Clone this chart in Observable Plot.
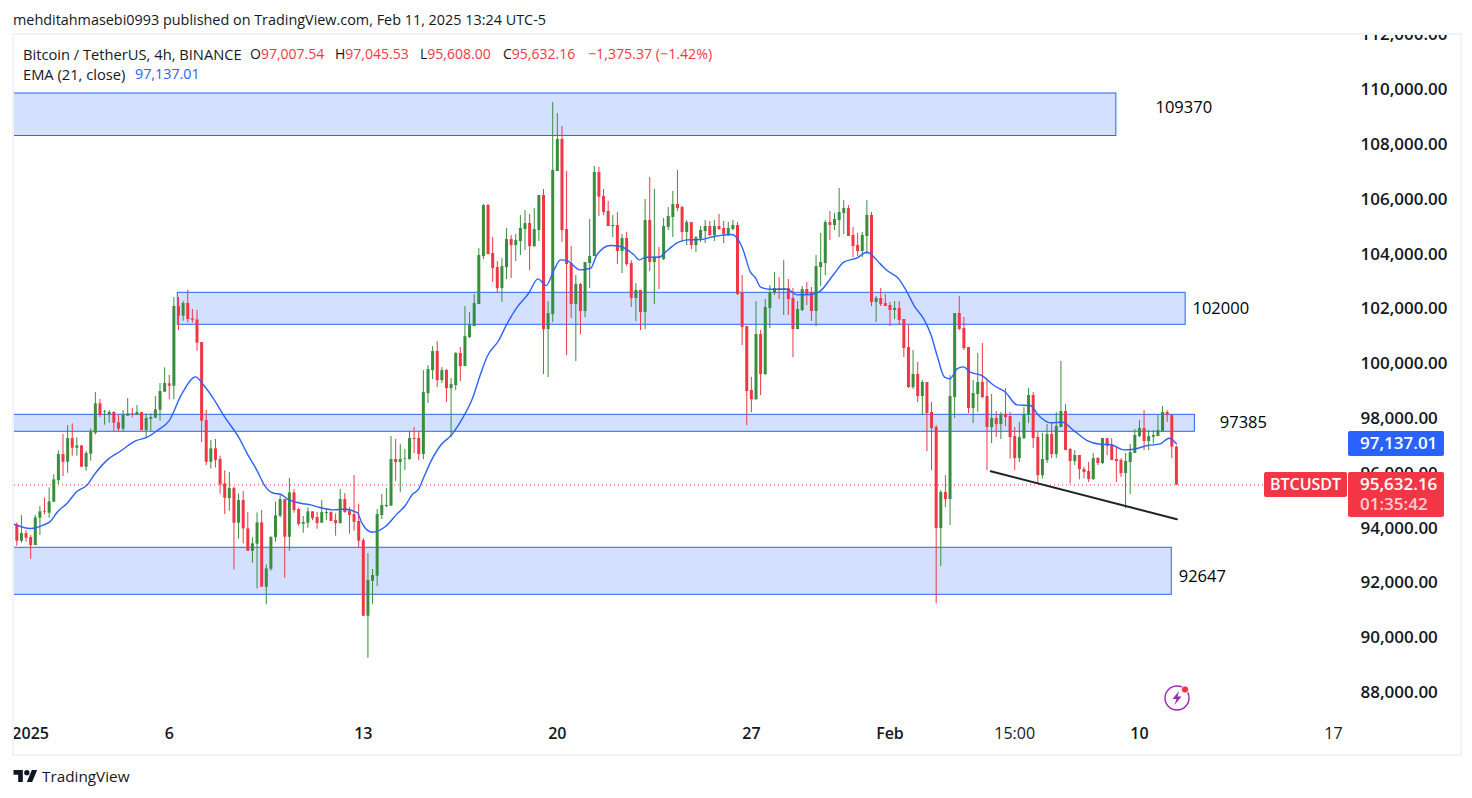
<!DOCTYPE html>
<html><head><meta charset="utf-8">
<script src="https://cdn.jsdelivr.net/npm/d3@7"></script>
<script src="https://cdn.jsdelivr.net/npm/@observablehq/plot@0.6"></script>
<style>
html,body{margin:0;padding:0;background:#fff;width:1472px;height:798px;overflow:hidden;font-family:"Open Sans",sans-serif;color:#131722}
.abs{position:absolute;white-space:nowrap}
#frame{left:12px;top:33px;width:1446px;height:719px;border:2px solid #f0f3fa}
#chart{left:14px;top:35px}
#chart svg{display:block}
.leg{font-size:14px;line-height:18px}
.wide{font-size:14.7px}
.red{color:#f23645}.blue{color:#2962ff}
.tag{color:#fff;font-size:17px;font-weight:600;border-radius:2px;box-sizing:border-box}
</style></head><body>
<div class="abs" id="published" style="left:13px;top:10px;font-size:14.4px;line-height:20px;">mehditahmasebi0993 published on TradingView.com, Feb 11, 2025 13:24 UTC-5</div>
<div class="abs" id="frame"></div>
<div class="abs" id="chart"></div>
<div class="abs leg wide" style="left:23px;top:45px">Bitcoin / TetherUS, 4h, BINANCE</div>
<div class="abs leg" style="left:250px;top:45px">O<span class="red">97,007.54</span></div>
<div class="abs leg" style="left:335px;top:45px">H<span class="red">97,045.53</span></div>
<div class="abs leg" style="left:420px;top:45px">L<span class="red">95,608.00</span></div>
<div class="abs leg" style="left:503px;top:45px">C<span class="red">95,632.16</span></div>
<div class="abs leg red" style="left:588px;top:45px;font-size:14.2px">−1,375.37 (−1.42%)</div>
<div class="abs leg wide" style="left:23px;top:65px">EMA (21, close)</div>
<div class="abs leg blue" style="left:135px;top:65px;font-size:14.3px">97,137.01</div>
<div class="abs tag" style="left:1348px;top:431px;width:96px;height:25px;line-height:24px;padding-left:12px;background:#2962ff">97,137.01</div>
<div class="abs tag" style="left:1264px;top:472px;width:83px;height:25px;line-height:25px;text-align:center;font-size:16px;background:#f23645">BTCUSDT</div>
<div class="abs tag" style="left:1348px;top:472px;width:96px;height:45px;background:#f23645;line-height:20px;padding:2px 0 0 12px">95,632.16<br><span style="opacity:.75">01:35:42</span></div>
<svg class="abs" style="left:1163px;top:684px" width="28" height="28" viewBox="0 0 28 28"><circle cx="14" cy="14" r="12" fill="none" stroke="#9c27b0" stroke-width="1.4"/><path d="M16 7 L9.5 15 H13.5 L11.5 21 L18.5 12.5 H14.5 Z" fill="#9c27b0"/><circle cx="22" cy="5.5" r="3.6" fill="#f23645" stroke="#fff" stroke-width=".8"/></svg>
<svg class="abs" style="left:13px;top:770px" width="25" height="12" viewBox="0 4 36 18"><path d="M14 22H7V11H0V4h14v18zM28 22h-8l7.5-18h8L28 22z" fill="#131722"/><circle cx="20" cy="8" r="4" fill="#131722"/></svg>
<div class="abs" style="left:42px;top:766px;font-size:15.3px;line-height:20px;color:#131722">TradingView</div>
<script>
const updown = ["rgrrggrggg","rgrgrgggrg","grrggrgrgg","gggrgrgrrr","rrgrrrgrgr","rggrggggrg","rrggrrggrr","grrrrrgggg","ggrgggrrgg","grgrggrggg","ggrrrggrgg","grggrgggrr","rgrgggrrrg","rgrrgrgrgr","gggrrgrggg","rgrrggrrrr","grgggrgrrg","grrgggrggg","rrrggrgrrr","grrrgrgrrr","grggrrrggr","rgrgrrrggg","rrggrggrrg","rrrgrgrrrr","ggggrggggr","rr"].join("");
const bodyTop = [
94173,93857,93857,93711,94429,94648,94660,95013,95816,96741,
96741,97325,97325,97058,97058,96778,97557,98591,98591,98311,
98275,98275,97897,98177,98226,98226,98275,98275,98056,98092,
98372,99041,99333,99321,102145,102145,102254,102254,101694,101658,
100830,97983,96948,96948,96559,95670,95500,95500,95062,95062,
94027,93480,94247,94247,92567,93711,94502,95098,95098,95342,
95342,94734,94259,94649,94649,94442,94624,94624,94624,94332,
95099,95099,94661,94551,94296,93602,92142,92324,94551,94880,
94880,96559,96559,96559,96596,97326,97326,97326,99003,99843,
100500,100500,99806,99806,99295,100427,100427,101048,101449,102252,
104005,105830,105830,104078,103567,103603,104589,104589,104552,104991,
105173,105173,104954,106195,106195,101887,107108,108240,108240,104954,
103713,102946,102946,103749,103968,107036,107036,106160,105612,105101,
105101,104626,104626,103713,102728,102728,105283,105283,103945,103969,
105064,105429,105867,105867,105758,105210,105210,104650,104918,105064,
105064,105064,105064,104991,104991,105101,105101,102618,101413,99077,
101121,101121,102107,102655,102801,102801,102801,102801,102436,102034,
102764,102764,102655,103604,103750,105210,105210,105320,105575,105721,
105721,104736,104371,104736,105466,105466,102437,102437,102254,102181,
102072,102072,101670,100648,99662,99662,99370,99370,98275,97727,
95354,95354,98859,101889,101889,101341,100648,98968,99370,99370,
98859,98056,98056,98202,98202,98129,97398,97362,98202,98895,
98895,97362,96559,97471,97471,97763,98311,98311,96924,96705,
96705,96194,96120,96595,96595,97325,97325,97070,96559,96522,
96486,96814,97435,97690,97690,97398,97435,97617,98275,98275,
98165,97008];
const bodyBottom = [
93577,93577,93687,93419,93419,94417,94636,94599,95001,95792,
96461,96461,96972,96972,96279,96279,96753,97520,98165,98287,
98189,97885,97666,97666,98141,98202,98177,97617,97617,98031,
98068,98360,99017,99236,99236,101792,101792,101670,101646,100806,
97958,96461,96461,96522,95634,95147,95135,94234,94234,94027,
93212,93212,93468,91898,91898,92555,93711,94490,93723,93723,
94697,94186,94198,94235,94405,94223,94235,94588,94296,94223,
94223,94624,94515,94271,93578,90839,90839,92117,92300,94515,
94843,94856,96450,96450,96571,96559,97290,96742,96742,98966,
99806,99441,99441,99149,99149,99259,99952,99952,101011,101413,
102216,103968,104041,103530,102800,102800,103567,104370,104370,104516,
104954,104333,104333,104918,101303,101303,101851,107072,104918,103676,
102216,102216,101960,101960,103713,103969,106135,105575,105064,105064,
104151,104151,103677,102436,102436,101924,101924,103750,103750,103920,
103859,105028,105393,105721,104845,104845,104371,104371,104614,104882,
104736,104736,104955,104772,104772,104955,102582,101377,99040,98748,
98748,99661,99661,102070,102618,102764,102764,102399,101304,101304,
101997,102582,101961,101961,103567,103713,105101,105101,105283,105539,
104699,104334,104151,104151,104699,102289,102291,102218,102145,101999,
101999,101633,100611,99187,99187,98859,98859,98238,97690,94039,
94039,95098,95098,98822,101305,100611,98421,98421,98932,98822,
97727,97727,97836,97836,98092,97362,96595,96595,97325,98202,
97325,95974,95974,96522,96741,96741,97727,96887,96486,96486,
96194,96084,95828,95828,96413,96413,97033,96522,96486,96047,
96047,96449,96778,97398,97216,97216,97374,97398,97581,98165,
97009,95632];
const highs = [
94247,94514,93966,93784,94514,94843,95159,95524,96011,96875,
97471,97800,97861,97350,97058,96851,97678,99005,98749,98348,
98348,98311,98165,98348,98786,98421,98530,98275,98226,98226,
98859,99333,99905,99626,102473,102473,102327,102729,102035,101999,
100830,98348,97252,97289,96680,96145,96084,95549,95305,95390,
94624,93699,94612,94697,92713,93747,95013,95281,95098,95865,
95464,94770,94478,94795,94649,94624,95062,94758,94649,94576,
95464,95318,94807,95975,94929,93675,93127,92543,94734,95281,
95501,97399,97290,97107,96924,97582,97728,97582,99806,99989,
100682,100865,99916,99843,99514,100463,100646,102143,101924,102581,
104260,105867,105867,104662,103786,103895,104991,104735,104772,105465,
105648,105502,105721,106195,106415,102325,109591,109189,108715,107072,
104333,103275,102983,103749,105319,107255,107218,106415,105977,105466,
105575,104772,104845,103823,102983,102728,106050,106853,106415,104298,
105356,105758,106342,107109,105794,105283,105210,104699,105064,105283,
105247,105283,105502,105247,105210,105283,105210,103275,101413,99551,
102326,101267,102399,102910,103385,103202,103823,103129,102801,102326,
102874,103020,102837,104005,104809,105283,105612,105539,106452,106013,
105831,105028,104809,104845,106013,105575,102510,102802,102583,102291,
102327,102327,101670,101451,100538,100100,99443,99370,98640,97800,
95427,95974,99625,101889,102510,101743,100648,99443,100429,100794,
99479,98932,98311,98275,99151,98275,97727,97909,98457,99151,
99005,97544,97508,97836,97909,98275,100137,98567,96960,96887,
96705,96279,96449,96778,96632,97325,97325,97325,97033,96595,
96778,97106,97654,97982,98348,97617,97617,98165,98494,98348,
98165,97046];
const lows = [
93395,93504,93541,92920,93419,93784,94539,94417,95001,95646,
95938,96060,96680,96680,96279,96133,96498,97459,98092,97812,
97885,97581,97581,97581,98141,98080,98177,97617,97313,97581,
98068,97958,99017,98737,98737,101268,101609,101548,101536,100514,
97179,96340,96206,96254,95293,94551,94672,92530,93650,93480,
93212,92774,91837,91898,91253,92482,93541,94429,92226,93212,
94600,94125,93870,94052,94332,94016,94235,94332,94296,93760,
94198,94600,93833,93943,93334,90839,89306,91278,91923,94369,
94795,94856,95756,95354,96158,96535,96778,96523,96559,98601,
99478,99186,99332,98638,97360,99076,99405,99952,100975,101413,
102216,103859,104041,103019,102617,102289,103129,103165,103786,104005,
104187,103457,104297,104516,99660,99551,101559,107072,104479,100354,
101705,100135,101121,101741,102800,103969,105429,105466,105064,104663,
103677,103348,103604,102107,101596,101267,101304,103421,102216,102764,
103823,104918,104663,105612,104480,104371,104225,104115,104480,104444,
104699,104517,104918,104444,104699,104918,102545,100720,97799,98273,
98711,98894,99624,101340,102545,102399,101815,101815,100281,101304,
101961,102180,101596,101413,102874,103275,104553,104918,104663,104772,
104699,103932,103969,103932,104042,102143,101560,102145,102145,101414,
101670,101451,100283,99151,99114,98640,98165,96851,96157,91289,
92652,94806,94149,98056,101268,100538,98238,97873,98275,98786,
96157,97143,97362,97289,97763,96571,96157,96449,97289,97873,
96960,95670,95853,96413,96595,96595,97727,96887,95670,96340,
95816,95853,95719,95792,96340,96376,96705,96522,95719,95901,
94757,95281,96778,97362,96887,96887,97131,97398,97581,97909,
96595,95608];
const emaBar = [-0.65,2.96,5.84,7.29,8.73,10.9,12.9,15.1,17,19.6,22.4,25.7,28.2,30.4,32.9,35.8,38.7,40.5,42.6,44.8,48.1,49.9,52,53.8,55.6,57.1,58.5,61.4,63.6,65.4,68.6,70.8,73.7,74.7,76.9,79.8,82.3,84.1,85.6,87,88.1,89.9,91.7,94.1,96.4,98.6,100.4,101.8,104.3,106.1,108.3,110.8,112.8,114.6,116.2,117.7,119.1,121.9,124.2,125.6,128.5,130.7,133.5,134.8,136.1,139,140.8,142.9,145.1,148,150.9,154.8,157,158.8,159.9,161,163.1,166.7,168.9,171.8,173.6,176.8,179,181.9,184,186.9,188.4,190.9,192.7,194.2,196.3,197.8,199.2,200.8,202,203.5,204.9,206.4,208.9,211.5,214,216.5,219.4,221.2,223.7,226.3,228.8,231.7,234.6,236.7,239.6,241.8,244.7,247.5,249.4,251];
const emaPrice = [94198,94040,94173,94307,94636,94964,95378,95610,96060,96547,96863,97240,97374,97617,97958,98980,99577,99260,98774,98165,97350,96766,96157,95573,95330,95293,95123,94965,94904,94819,94722,94746,94624,94235,93906,94113,94576,94880,95282,95488,95914,96584,97071,97460,98044,98774,99687,100320,100904,101510,102119,102630,103153,102910,103457,103847,103822,103482,103542,104042,104370,104334,104042,103847,103945,103945,104188,104468,104578,104590,104699,104772,104310,103397,103190,102849,102776,102776,102569,102582,102667,103312,103762,103920,104127,103701,103459,103155,102668,102181,101694,101147,100356,99565,99504,99869,99942,99747,99626,99260,99017,98555,98530,98165,97897,97922,97617,97252,97118,97106,96912,96936,97070,97131,97338,97137];
const boxStart = [-3,34.85,-3,-3];
const boxEnd = [238,253,255,250];
const boxTop = [109920,102645,98192,93338];
const boxBottom = [108368,101477,97572,91622];
const boxLabels = ["109370","102000","97385","92647"];
const labelBar = [252.6,260.6,265.5,256.6];
const labelPrice = [109409,102072,97911,92290];
const trendBar = [210.8,251.1];
const trendPrice = [96133,94380];
const lastPrice = 95632.16;
const priceTicks = d3.range(88000,112001,2000);
const boldDates = ["2025-01-01","2025-01-06","2025-01-13","2025-01-20","2025-01-27","2025-02-01","2025-02-10"];
const boldLabels = ["2025","6","13","20","27","Feb","10"];
const plainDates = ["2025-02-05T12:00Z","2025-02-17"];
const plainLabels = ["15:00","17"];

const firstBar = Date.UTC(2024,11,31,12), barHours = 4;
const barTime = i => new Date(firstBar + i*barHours*3600e3);
const boldTicks = boldDates.map(d => new Date(d));
const plainTicks = plainDates.map(d => new Date(d));
const candles = bodyTop.map((t,i) => ({t:barTime(i), top:t, bottom:bodyBottom[i], high:highs[i], low:lows[i], up:updown[i]==="g"}));
const boxes = boxStart.map((s,i) => ({x1:barTime(s), x2:barTime(boxEnd[i]), y1:boxTop[i], y2:boxBottom[i]}));
const labels = boxLabels.map((s,i) => ({x:barTime(labelBar[i]), y:labelPrice[i], s}));
const ema = emaBar.map((b,i) => ({x:barTime(b), y:emaPrice[i]}));
const trend = trendBar.map((b,i) => ({x:barTime(b), y:trendPrice[i]}));
const colour = d => d.up ? "#388e3c" : "#f23645";
const font = '"Open Sans",sans-serif';

const plot = Plot.plot({
  width:1444, height:718, marginLeft:0, marginRight:113, marginTop:0, marginBottom:37,
  style:{background:"transparent", overflow:"hidden", fontFamily:font},
  x:{type:"utc", domain:[barTime(-0.5), barTime(287.6)], label:null},
  y:{domain:[87180,112037], label:null},
  marks:[
    Plot.rect(boxes,{x1:"x1",x2:"x2",y1:"y1",y2:"y2",fill:"#2962ff",fillOpacity:0.2,stroke:"#2962ff",strokeWidth:1,clip:true}),
    Plot.ruleY([lastPrice],{stroke:"#f23645",strokeWidth:1,strokeDasharray:"1,3"}),
    Plot.ruleX(candles,{x:"t",y1:"low",y2:"high",stroke:colour,strokeWidth:1,clip:true}),
    Plot.ruleX(candles,{x:"t",y1:"bottom",y2:"top",stroke:colour,strokeWidth:3,clip:true}),
    Plot.line(ema,{x:"x",y:"y",stroke:"#2962ff",strokeWidth:1.4,curve:"monotone-x"}),
    Plot.line(trend,{x:"x",y:"y",stroke:"#1e222d",strokeWidth:2}),
    Plot.text(labels,{x:"x",y:"y",text:"s",fontSize:16.5,fill:"#000"}),
    Plot.axisY({anchor:"right",ticks:priceTicks,tickSize:0,tickPadding:15,dy:-1.5,label:null,fontSize:17,fontWeight:600,fill:"#131722",tickFormat:d=>d3.format(",.2f")(d)}),
    Plot.axisX({anchor:"bottom",ticks:boldTicks,tickSize:0,tickPadding:11,label:null,fontSize:16,fontWeight:600,fill:"#131722",tickFormat:d=>boldLabels[boldTicks.findIndex(t=>+t===+d)]}),
    Plot.axisX({anchor:"bottom",ticks:plainTicks,tickSize:0,tickPadding:11,label:null,fontSize:16,fontWeight:400,fill:"#131722",tickFormat:d=>plainLabels[plainTicks.findIndex(t=>+t===+d)]})
  ]
});
document.getElementById("chart").appendChild(plot);
</script>
</body></html>
